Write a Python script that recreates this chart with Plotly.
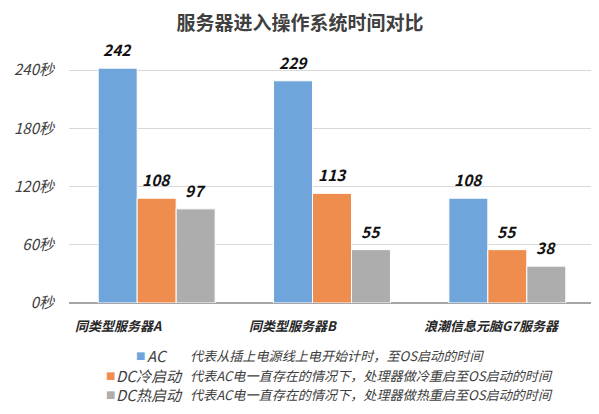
import plotly.graph_objects as go

categories = ["同类型服务器A", "同类型服务器B", "浪潮信息元脑G7服务器"]
series_names = ["AC", "DC冷启动", "DC热启动"]
series_desc = [
    "代表从插上电源线上电开始计时，至OS启动的时间",
    "代表AC电一直存在的情况下，处理器做冷重启至OS启动的时间",
    "代表AC电一直存在的情况下，处理器做热重启至OS启动的时间",
]
ac_values = [242, 229, 108]
dc_cold_values = [108, 113, 55]
dc_hot_values = [97, 55, 38]
y_ticks = [0, 60, 120, 180, 240]
y_tick_labels = ["0秒", "60秒", "120秒", "180秒", "240秒"]
title_text = "服务器进入操作系统时间对比"

colors = ["#6FA5DA", "#EF8D4F", "#ADADAD"]
FONT = "Noto Sans CJK SC"

all_values = [ac_values, dc_cold_values, dc_hot_values]

# page has an 8px body margin: lay out in window pixels, then convert
OFF = 8
W, H = 599, 414
PL, PR, PT, PB = 69, 595, 40.5, 303.5  # plot area in window pixels


def px_x(wx):
    return (wx - PL) / (PR - PL)


def px_y(wy):
    return (PB - wy) / (PB - PT)


fig = go.Figure()
for i, (name, vals) in enumerate(zip(series_names, all_values)):
    fig.add_trace(go.Bar(
        x=categories, y=vals, name=name,
        marker=dict(color=colors[i], line=dict(color="white", width=1)),
        showlegend=False,
    ))

annotations = []
bar_px = 39
for i, vals in enumerate(all_values):
    for c, v in zip(categories, vals):
        annotations.append(dict(
            x=c, y=v, xref="x", yref="y", text=f"<b><i>{v}</i></b>",
            showarrow=False, xshift=(i - 1) * bar_px, yshift=6, yanchor="bottom",
            font=dict(family=FONT, size=15.5, color="#111111"),
        ))

cat_shift = [-38, -39, -15]
for c, s in zip(categories, cat_shift):
    annotations.append(dict(
        x=c, y=0, xref="x", yref="y", text=f"<b><i>{c}</i></b>",
        showarrow=False, xshift=s, yshift=-11, yanchor="top",
        font=dict(family=FONT, size=13, color="#262626"),
    ))

# custom legend (window pixel layout)
leg_rows = [356, 376, 395.5]
sq_x = [140, 110, 110]
name_x = [146, 115, 115]
desc_x = 189
for i in range(3):
    yy = px_y(leg_rows[i])
    annotations.append(dict(
        x=px_x(sq_x[i]), y=yy, xref="paper", yref="paper", text="■",
        showarrow=False, xanchor="center", yanchor="middle", borderpad=0,
        font=dict(family="DejaVu Sans", size=10, color=colors[i]),
    ))
    annotations.append(dict(
        x=px_x(name_x[i]), y=yy, xref="paper", yref="paper", text=f"<i>{series_names[i]}</i>",
        showarrow=False, xanchor="left", yanchor="middle", borderpad=0,
        font=dict(family=FONT, size=15, color="#404040"),
    ))
    annotations.append(dict(
        x=px_x(desc_x), y=yy, xref="paper", yref="paper", text=f"<i>{series_desc[i]}</i>",
        showarrow=False, xanchor="left", yanchor="middle", borderpad=0,
        font=dict(family=FONT, size=13.1, color="#404040"),
    ))

fig.update_layout(
    width=W, height=H,
    margin=dict(l=PL - OFF, r=W - (PR - OFF), t=PT - OFF, b=H - (PB - OFF)),
    paper_bgcolor="white", plot_bgcolor="white",
    barmode="group", bargap=0.333, bargroupgap=0,
    title=dict(text=f"<b>{title_text}</b>", x=(300 - OFF) / W, xanchor="center",
               y=1 - (23 - OFF) / H, yanchor="middle",
               font=dict(family=FONT, size=19, color="#404040")),
    xaxis=dict(showticklabels=False, showline=False, ticks=""),
    yaxis=dict(range=[0, 270], tickvals=y_ticks, ticktext=[f"<i>{t}</i>" for t in y_tick_labels],
               showgrid=True, gridcolor="#D9D9D9", gridwidth=1,
               zeroline=True, zerolinecolor="#A6A6A6", zerolinewidth=1.5,
               tickfont=dict(family=FONT, size=15, color="#404040"), ticks="",
               ticklabelstandoff=14, automargin=False),
    annotations=annotations,
    showlegend=False,
)

fig.write_html("out.html")
